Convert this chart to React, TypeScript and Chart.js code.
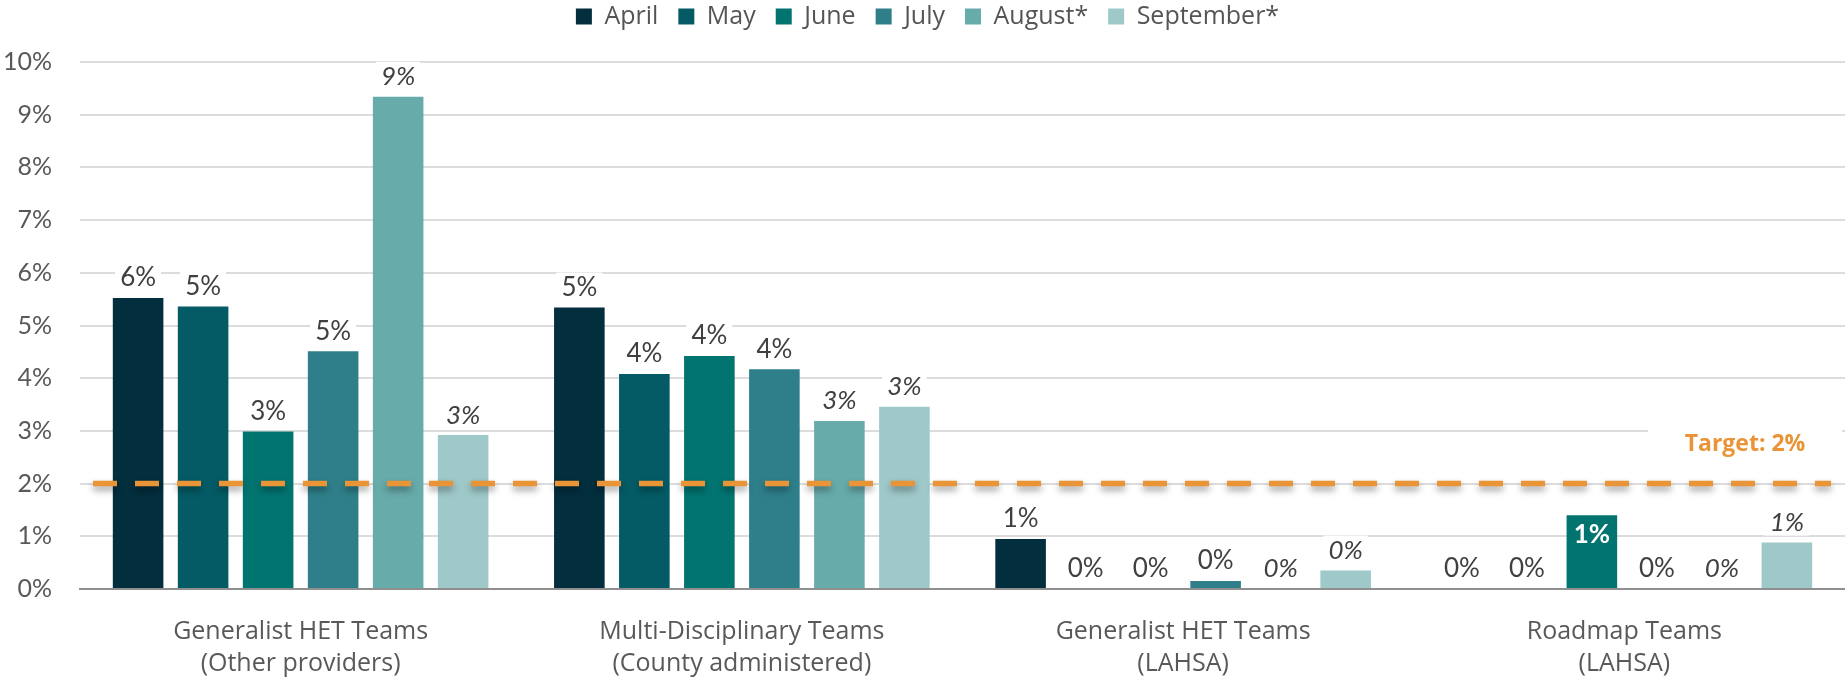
import React, { useEffect, useRef } from "react";
import { Chart, registerables } from "chart.js";

Chart.register(...registerables);

const categories: string[][] = [
  ["Generalist HET Teams", "(Other providers)"],
  ["Multi-Disciplinary Teams", "(County administered)"],
  ["Generalist HET Teams", "(LAHSA)"],
  ["Roadmap Teams", "(LAHSA)"],
];
const seriesNames = ["April", "May", "June", "July", "August*", "September*"];
const seriesColors = ["#032e3d", "#045b65", "#027470", "#2e7f8a", "#68abab", "#9fc8c9"];

const april = [5.52, 5.34, 0.95, 0];
const may = [5.36, 4.08, 0, 0];
const june = [2.99, 4.42, 0, 1.4];
const july = [4.51, 4.17, 0.15, 0];
const august = [9.34, 3.19, 0, 0];
const september = [2.92, 3.46, 0.35, 0.88];
const seriesValues = [april, may, june, july, august, september];

const italicSeries = [false, false, false, false, true, true];
const insideLabels: number[][] = [[2, 3]];

const yMin = 0;
const yMax = 10;
const yStep = 1;
const target = 2;
const targetLabel = "Target: 2%";

const legendPlugin = {
  id: "legendTune",
  beforeInit(chart: any) {
    const legend = chart.legend;
    if (legend && !legend.__patched) {
      const orig = legend.fit.bind(legend);
      legend.fit = function () {
        orig();
        this.height = 62;
      };
      legend.__patched = true;
    }
  },
  afterLayout(chart: any) {
    const l = chart.legend;
    if (l) {
      l.top -= 16;
      l.bottom -= 16;
      l.left += 5;
      l.right += 5;
    }
  },
};

const targetPlugin = {
  id: "targetLine",
  afterDatasetsDraw(chart: any) {
    const { ctx, chartArea, scales } = chart;
    const py = scales.y.getPixelForValue(target);
    ctx.save();
    ctx.strokeStyle = "#E99537";
    ctx.lineWidth = 5.5;
    ctx.setLineDash([24, 18]);
    ctx.shadowColor = "rgba(0,0,0,0.4)";
    ctx.shadowBlur = 7;
    ctx.shadowOffsetY = 4;
    ctx.beginPath();
    ctx.moveTo(chartArea.left + 13, py);
    ctx.lineTo(chartArea.right - 14, py);
    ctx.stroke();
    ctx.restore();

    ctx.save();
    const ly = py - 39;
    ctx.fillStyle = "#ffffff";
    ctx.fillRect(chartArea.right - 197, ly - 16, 194, 32);
    ctx.font = 'bold 23px "Open Sans"';
    ctx.fillStyle = "#E99537";
    ctx.textAlign = "center";
    ctx.textBaseline = "middle";
    ctx.fillText(targetLabel, chartArea.right - 100, ly);
    ctx.restore();
  },
};

const dataLabelPlugin = {
  id: "dataLabels",
  afterDatasetsDraw(chart: any) {
    const ctx = chart.ctx;
    chart.data.datasets.forEach((ds: any, di: number) => {
      const meta = chart.getDatasetMeta(di);
      meta.data.forEach((bar: any, idx: number) => {
        const v = ds.data[idx] as number;
        const text = Math.round(v) + "%";
        const inside = insideLabels.some(([d, c]) => d === di && c === idx);
        ctx.save();
        ctx.font = `${italicSeries[di] ? "italic " : ""}${inside ? "bold " : ""}26px Lato`;
        ctx.textAlign = "center";
        ctx.textBaseline = "middle";
        const y = inside ? bar.y + 19 : bar.y - 20;
        if (!inside) {
          const w = ctx.measureText(text).width;
          ctx.fillStyle = "#ffffff";
          ctx.fillRect(bar.x - w / 2 - 5, y - 15, w + 10, 28);
        }
        ctx.fillStyle = inside ? "#ffffff" : "#404040";
        ctx.fillText(text, bar.x, y);
        ctx.restore();
      });
    });
  },
};

export default function App() {
  const ref = useRef<HTMLCanvasElement | null>(null);

  useEffect(() => {
    document.body.style.margin = "0";
    const canvas = ref.current;
    if (!canvas) return;
    const chart = new Chart(canvas, {
      type: "bar",
      data: {
        labels: categories,
        datasets: seriesNames.map((name, i) => ({
          label: name,
          data: seriesValues[i],
          backgroundColor: seriesColors[i],
          borderWidth: 0,
          barPercentage: 0.778,
          categoryPercentage: 0.884,
        })),
      },
      options: {
        responsive: false,
        animation: false,
        layout: { padding: 0 },
        plugins: {
          legend: {
            display: true,
            position: "top",
            labels: {
              boxWidth: 16,
              boxHeight: 16,
              padding: 20,
              color: "#555555",
              font: { family: "Open Sans", size: 25 },
            },
          },
          tooltip: { enabled: false },
          title: { display: false },
        },
        scales: {
          x: {
            grid: { display: false, drawTicks: false },
            border: { display: true, color: "#8f8f8f", width: 2 },
            ticks: {
              color: "#595959",
              padding: 27,
              autoSkip: false,
              maxRotation: 0,
              font: { family: "Open Sans", size: 25, lineHeight: 32 / 25 },
            },
            afterFit(scale: any) {
              scale.height = 90;
            },
          },
          y: {
            min: yMin,
            max: yMax,
            grid: { color: "#dcdcdc", lineWidth: 2, drawTicks: false },
            border: { display: false },
            ticks: {
              stepSize: yStep,
              padding: 28,
              color: "#595959",
              font: { family: "Lato", size: 25 },
              callback: (v: any) => v + "%",
            },
            afterFit(scale: any) {
              scale.width = 80;
            },
          },
        },
      },
      plugins: [legendPlugin, targetPlugin, dataLabelPlugin],
    } as any);
    return () => chart.destroy();
  }, []);

  return (
    <div style={{ width: 1845, height: 679, background: "#ffffff" }}>
      <canvas ref={ref} width={1845} height={679} style={{ display: "block" }} />
    </div>
  );
}
